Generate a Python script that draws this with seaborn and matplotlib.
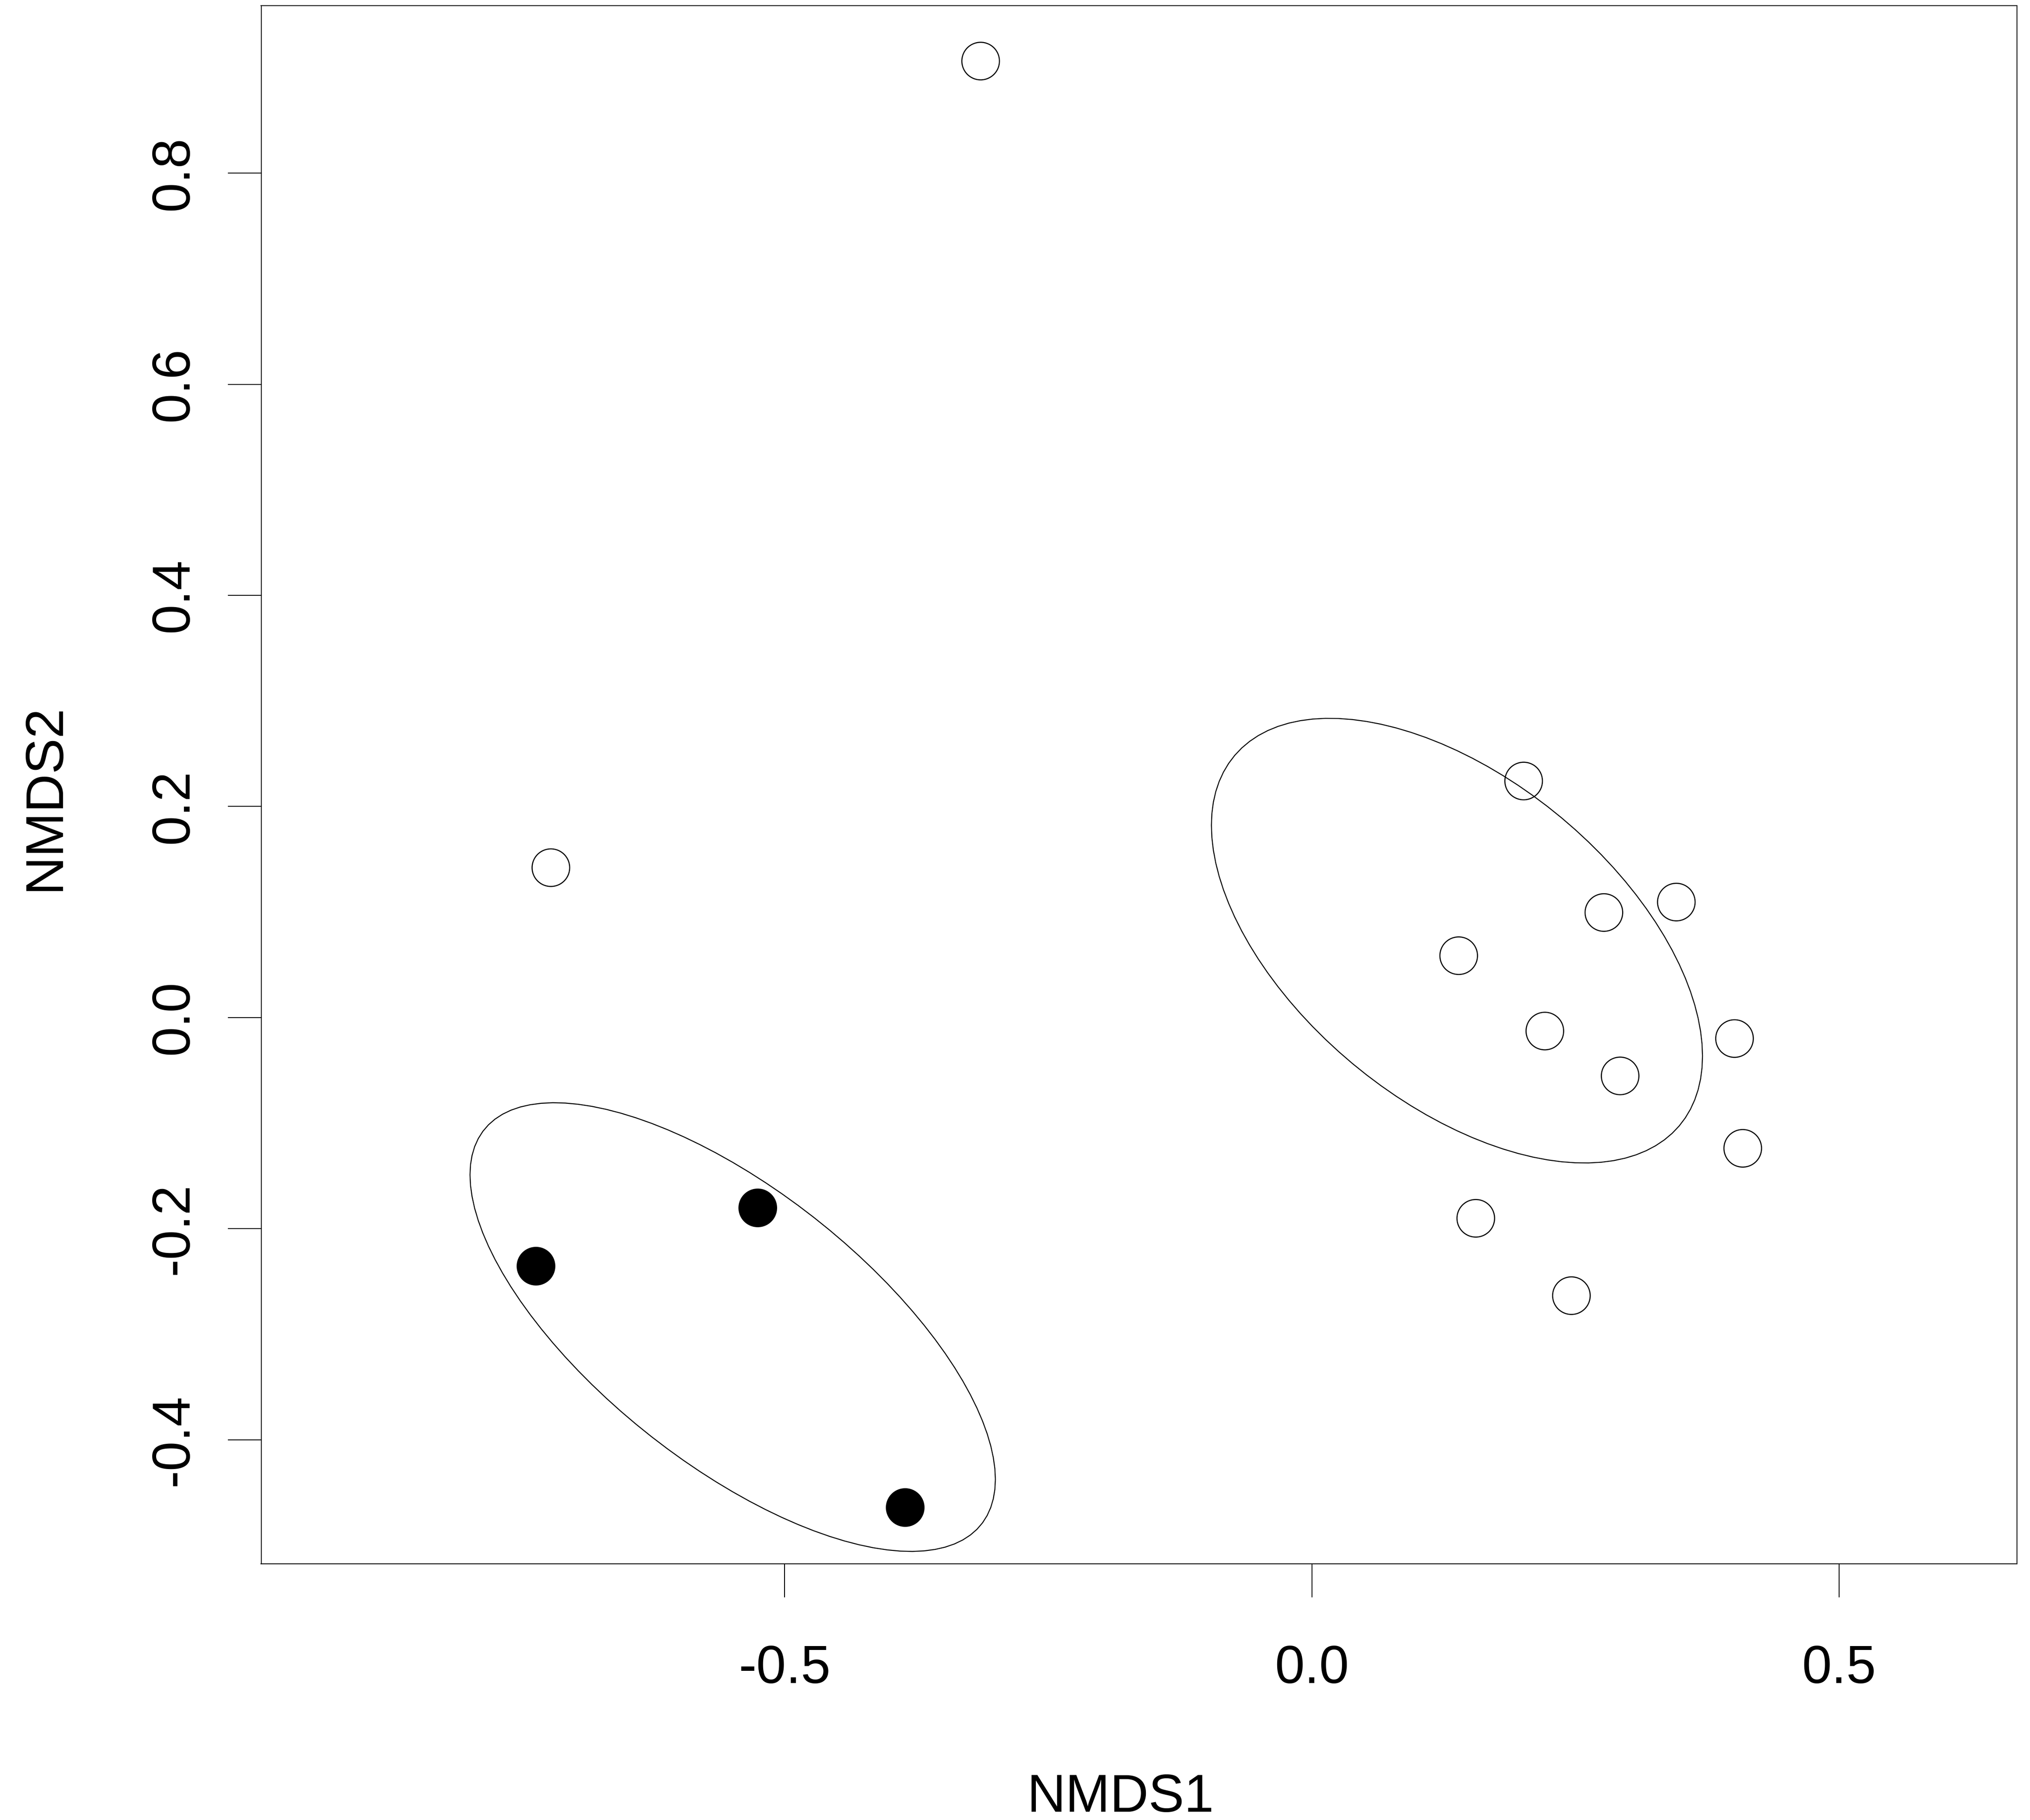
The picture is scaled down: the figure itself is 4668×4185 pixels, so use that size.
import numpy as np
import pandas as pd
import seaborn as sns
import matplotlib.pyplot as plt

# NMDS site scores
open_x = [0.2009, 0.2770, 0.3457, 0.1393, 0.2210, 0.4009, 0.2924, 0.4087, 0.1555, 0.2462, -0.3141, -0.7217]
open_y = [0.2241, 0.0995, 0.1094, 0.0586, -0.0128, -0.0199, -0.0553, -0.1239, -0.1902, -0.2635, 0.9062, 0.1420]
filled_x = [-0.5256, -0.7362, -0.3860]
filled_y = [-0.1803, -0.2355, -0.4640]

x_ticks = [-0.5, 0.0, 0.5]
x_ticklabels = ['-0.5', '0.0', '0.5']
y_ticks = [-0.4, -0.2, 0.0, 0.2, 0.4, 0.6, 0.8]
y_ticklabels = ['-0.4', '-0.2', '0.0', '0.2', '0.4', '0.6', '0.8']

df = pd.DataFrame({'NMDS1': open_x + filled_x,
                   'NMDS2': open_y + filled_y,
                   'group': ['open'] * len(open_x) + ['filled'] * len(filled_x)})

sns.set_theme(style='white')
plt.rcParams['font.family'] = ['Liberation Sans', 'DejaVu Sans']
plt.rcParams['axes.unicode_minus'] = False
plt.rcParams['text.color'] = 'black'
plt.rcParams['xtick.color'] = 'black'
plt.rcParams['ytick.color'] = 'black'
plt.rcParams['axes.labelcolor'] = 'black'

fig = plt.figure(figsize=(4668 / 300, 4185 / 300), dpi=300)
ax = fig.add_axes([600.5 / 4668, (4185 - 3596) / 4185, 4037.1 / 4668, 3583.2 / 4185])

lw = 0.5
sns.scatterplot(data=df[df.group == 'open'], x='NMDS1', y='NMDS2',
                s=430, facecolor='none', edgecolor='black', linewidth=0.6, ax=ax)
sns.scatterplot(data=df[df.group == 'filled'], x='NMDS1', y='NMDS2',
                s=430, color='black', edgecolor='black', linewidth=0.6, ax=ax)

# ordiellipse style: standard error ellipse, 95% confidence
scale = np.sqrt(-2 * np.log(0.05))
t = np.linspace(0, 2 * np.pi, 101)
circle = np.column_stack([np.cos(t), np.sin(t)])
for g, sub in df.groupby('group'):
    pts = sub[['NMDS1', 'NMDS2']].to_numpy()
    cov = np.cov(pts, rowvar=False) / len(pts)
    root = np.linalg.cholesky(cov)
    ell = pts.mean(axis=0) + scale * circle @ root.T
    ax.plot(ell[:, 0], ell[:, 1], color='black', linewidth=0.55)

ax.set_xlim(-0.9965, 0.6686)
ax.set_ylim(-0.5176, 0.9588)
ax.set_xticks(x_ticks)
ax.set_xticklabels(x_ticklabels, fontsize=29.5, color='black')
ax.set_yticks(y_ticks)
ax.set_yticklabels(y_ticklabels, fontsize=29.5, rotation=90, va='center', color='black')
ax.tick_params(axis='both', direction='out', length=18.5, width=lw, color='black')
ax.tick_params(axis='x', pad=26)
ax.tick_params(axis='y', pad=16)
ax.xaxis.set_ticks_position('bottom')
ax.yaxis.set_ticks_position('left')
for spine in ax.spines.values():
    spine.set_linewidth(lw)
    spine.set_color('black')
ax.set_xlabel('')
ax.set_ylabel('')

fig.text(2577.5 / 4668, (4185 - 4166) / 4185, 'NMDS1', fontsize=29.5,
         color='black', ha='center', va='baseline')
fig.text(136 / 4668, (4185 - 1833) / 4185, 'NMDS2', fontsize=29.5, color='black',
         rotation=90, rotation_mode='anchor', ha='center', va='baseline')

fig.savefig('out.png', dpi=300, facecolor='white')
